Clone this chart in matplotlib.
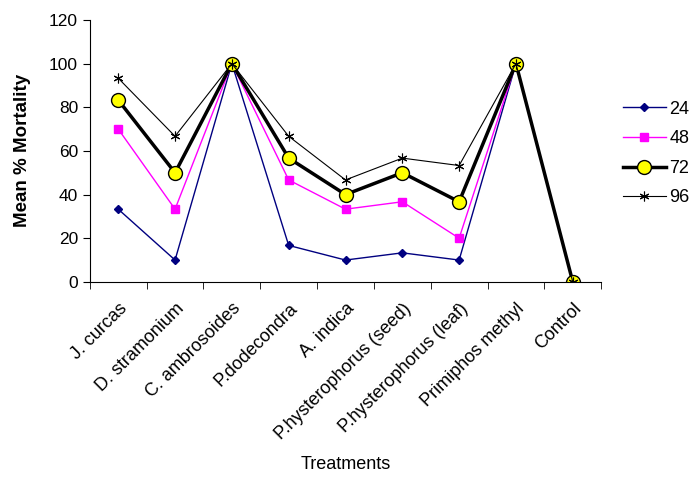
import numpy as np
import matplotlib.pyplot as plt
from matplotlib.ticker import FixedLocator

plt.rcParams['font.family'] = ['Liberation Sans', 'DejaVu Sans']

# données
treatments = ["J. curcas", "D. stramonium", "C. ambrosoides", "P.dodecondra",
              "A. indica", "P.hysterophorus (seed)", "P.hysterophorus (leaf)",
              "Primiphos methyl", "Control"]
h24 = [33.3, 10, 100, 16.7, 10, 13.3, 10, 100, 0]
h48 = [70, 33.3, 100, 46.7, 33.3, 36.7, 20, 100, 0]
h72 = [83.3, 50, 100, 56.7, 40, 50, 36.7, 100, 0]
h96 = [93.3, 66.7, 100, 66.7, 46.7, 56.7, 53.3, 100, 0]

fig = plt.figure(figsize=(6.91, 4.86), dpi=100)
ax = fig.add_axes([0.130, 0.420, 0.740, 0.539])

x = np.arange(len(treatments))
ax.plot(x, h24, color='#000080', lw=1, marker='D', ms=4.5, label='24')
ax.plot(x, h48, color='#ff00ff', lw=1, marker='s', ms=5.5, label='48')
ax.plot(x, h72, color='black', lw=2.5, marker='o', ms=10,
        markerfacecolor='#ffff00', markeredgecolor='black', markeredgewidth=1, label='72')
ax.plot(x, h96, color='black', lw=0.8, marker=(6, 2, 0), ms=7, mew=0.8, label='96')

ax.set_xlim(-0.5, len(treatments) - 0.5)
ax.set_ylim(0, 120)
ax.set_yticks(range(0, 121, 20))
ax.tick_params(axis='y', labelsize=12.5, length=5, direction='out')

ax.set_xticks(x)
ax.set_xticklabels(treatments, rotation=45, ha='right', rotation_mode='anchor', fontsize=13)
ax.tick_params(axis='x', which='major', length=0, pad=13)
ax.xaxis.set_minor_locator(FixedLocator(np.arange(-0.5, len(treatments), 1)))
ax.tick_params(axis='x', which='minor', length=5, direction='out')

for s in ['top', 'right']:
    ax.spines[s].set_visible(False)

ax.set_ylabel("Mean % Mortality", fontsize=13.5, fontweight='bold')
ax.yaxis.set_label_coords(-0.115, 0.5)
ax.set_xlabel("Treatments", fontsize=13)
ax.xaxis.set_label_coords(0.5, -0.665)

ax.legend(loc='center left', bbox_to_anchor=(1.01, 0.49), frameon=False,
          fontsize=13, handlelength=2.4, labelspacing=0.7, handletextpad=0.2)

fig.savefig("out.png", dpi=100)
